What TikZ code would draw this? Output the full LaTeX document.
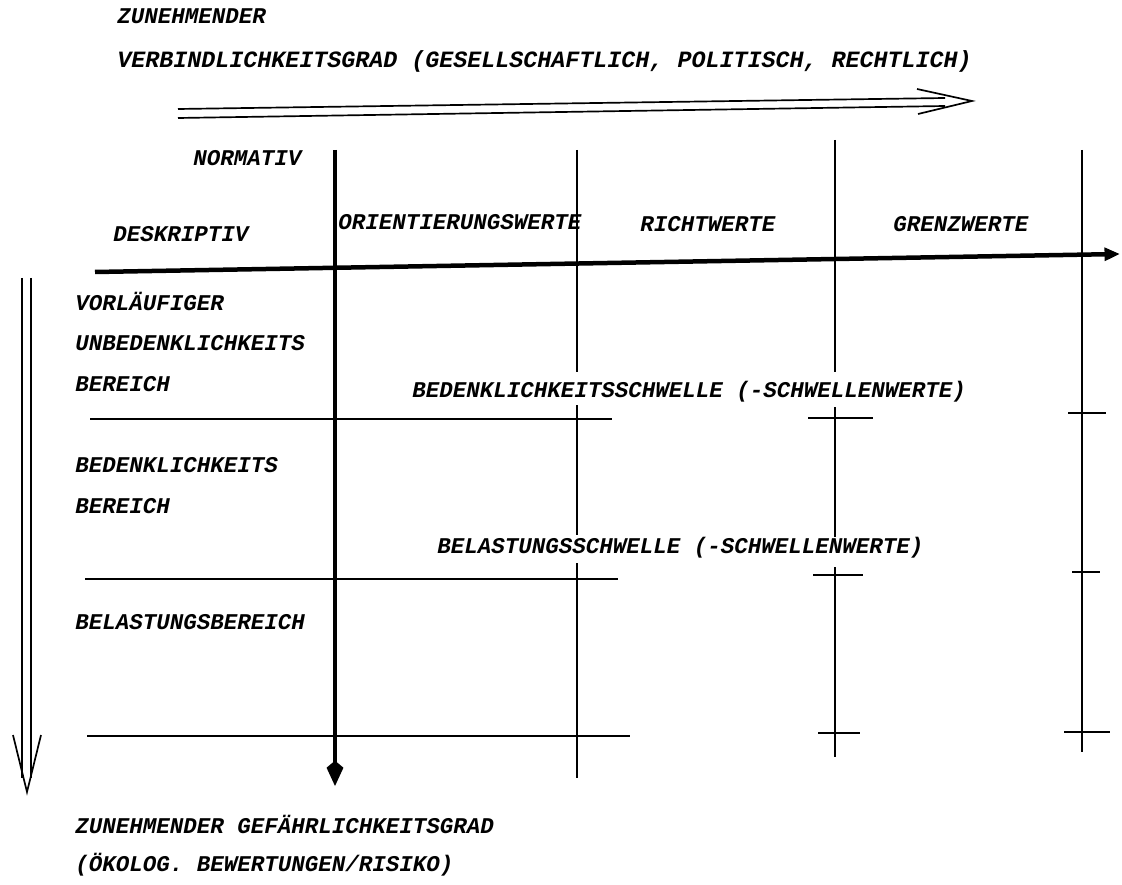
\documentclass[tikz,border=0pt]{standalone}
\usepackage{fontspec}
\newfontfamily\typew{Liberation Mono}
\usetikzlibrary{arrows.meta}

\begin{document}
\begin{tikzpicture}[
    x=0.025cm, y=-0.025cm,
    every node/.style={font=\typew\bfseries\itshape\fontsize{16}{19}\selectfont, inner sep=0pt, anchor=base west},
    axis/.style={line width=3.2pt},
    grid/.style={line width=1.3pt},
    tick/.style={line width=1.3pt},
    twin/.style={line width=1.2pt},
    >=Latex
]
\useasboundingbox (0,0) rectangle (1122,885);

% Texts
\node (zun) at (117,24) {ZUNEHMENDER};
\node[font=\typew\bfseries\itshape\fontsize{16.6}{19}\selectfont] (verb) at (117,68)
    {VERBINDLICHKEITSGRAD (GESELLSCHAFTLICH, POLITISCH, RECHTLICH)};
\node (norm) at (193,166) {NORMATIV};
\node (deskr) at (113,242) {DESKRIPTIV};
\node (orient) at (338,230) {ORIENTIERUNGSWERTE};
\node (richt) at (640,232) {RICHTWERTE};
\node (grenz) at (893,232) {GRENZWERTE};
\node (vorl) at (75,311) {VORLÄUFIGER};
\node (unbed) at (75,351) {UNBEDENKLICHKEITS};
\node (ber1) at (75,391) {BEREICH};
\node (bedsch) at (412,397) {BEDENKLICHKEITSSCHWELLE (-SCHWELLENWERTE)};
\node (bed) at (75,472) {BEDENKLICHKEITS};
\node (ber2) at (75,513) {BEREICH};
\node (belsch) at (437,553) {BELASTUNGSSCHWELLE (-SCHWELLENWERTE)};
\node (belber) at (75,629) {BELASTUNGSBEREICH};
\node (gef) at (75,833) {ZUNEHMENDER GEFÄHRLICHKEITSGRAD};
\node (oek) at (75,871) {(ÖKOLOG. BEWERTUNGEN/RISIKO)};

% Ends of the axes
\coordinate (h0) at (95,272);  \coordinate (h1) at (1120,254);
\coordinate (v0) at (335,150); \coordinate (v1) at (335,786);

% Axes
\draw[axis, -{Triangle[length=11pt, width=9pt]}] (h0) -- (h1);
\draw[axis, -{Kite[length=18pt, width=12pt, inset=5pt]}] (v0) -- (v1);

% Columns, broken where the threshold texts run across
\foreach \x/\a/\b in {577/150/372, 577/405/535, 577/563/778,
                      835/140/372, 835/407/537, 835/567/757,
                      1082/150/752}
    \draw[grid] (\x,\a) -- (\x,\b);

% Thresholds
\draw[grid] (90,419) -- (612,419);
\draw[grid] (85,579) -- (618,579);
\draw[grid] (87,736) -- (630,736);
\foreach \y/\a/\b in {418/808/873, 575/813/863, 733/818/860}
    \draw[tick] (\a,\y) -- (\b,\y);
\foreach \y/\a/\b in {413/1068/1106, 572/1072/1100, 732/1064/1110}
    \draw[tick] (\a,\y) -- (\b,\y);

% Double arrows
\coordinate (t1) at (972,101);
\draw[twin] (178,109) -- (945,98);
\draw[twin] (178,118) -- (945,106);
\draw[twin] (917,89) -- (t1) -- (918,114);

\coordinate (l1) at (27,792);
\draw[twin] (22,278) -- (22,778);
\draw[twin] (31,278) -- (31,778);
\draw[twin] (13,735) -- (l1) -- (41,735);

\end{tikzpicture}
\end{document}
